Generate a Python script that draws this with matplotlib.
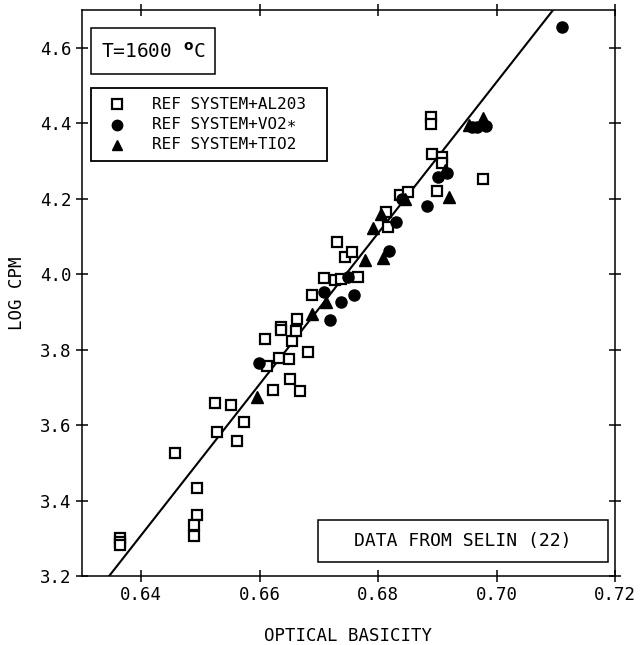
import matplotlib
matplotlib.use('Agg')
import matplotlib.pyplot as plt

plt.rcParams['font.family'] = ['DejaVu Sans Mono', 'DejaVu Sans']

# REF SYSTEM + AL2O3 (open squares)
al_x = [0.6364, 0.6364, 0.6364, 0.6457, 0.6494, 0.6494, 0.6489, 0.6489, 0.6525, 0.6552,
        0.6528, 0.6574, 0.6562, 0.6623, 0.6612, 0.6633, 0.6650, 0.6651, 0.6668, 0.6609,
        0.6655, 0.6636, 0.6636, 0.6661, 0.6663, 0.6682, 0.6688, 0.6709, 0.6727, 0.6737,
        0.6766, 0.6731, 0.6744, 0.6756, 0.6813, 0.6817, 0.6837, 0.6851, 0.6889, 0.6889,
        0.6891, 0.6908, 0.6908, 0.6900, 0.6977]
al_y = [3.301, 3.290, 3.282, 3.526, 3.433, 3.362, 3.335, 3.306, 3.659, 3.654,
        3.582, 3.608, 3.558, 3.693, 3.757, 3.778, 3.775, 3.722, 3.691, 3.829,
        3.823, 3.860, 3.852, 3.850, 3.882, 3.794, 3.945, 3.990, 3.985, 3.988,
        3.993, 4.086, 4.046, 4.059, 4.165, 4.125, 4.210, 4.218, 4.417, 4.399,
        4.319, 4.311, 4.295, 4.221, 4.253]

# REF SYSTEM + VO2* (filled circles)
vo_x = [0.7111, 0.6959, 0.6967, 0.6982, 0.6916, 0.6901, 0.6883, 0.6840, 0.6830, 0.6819,
        0.6749, 0.6709, 0.6737, 0.6759, 0.6719, 0.6599]
vo_y = [4.656, 4.391, 4.391, 4.393, 4.269, 4.258, 4.181, 4.200, 4.139, 4.062,
        3.993, 3.953, 3.927, 3.945, 3.879, 3.765]

# REF SYSTEM + TIO2 (filled triangles)
ti_x = [0.6954, 0.6977, 0.6913, 0.6920, 0.6846, 0.6805, 0.6791, 0.6778, 0.6808, 0.6712,
        0.6688, 0.6596]
ti_y = [4.396, 4.415, 4.277, 4.205, 4.200, 4.160, 4.123, 4.038, 4.043, 3.927,
        3.896, 3.675]

# regression line end points
fit_x = [0.6346, 0.7095]
fit_y = [3.2, 4.7]

xticks = [0.64, 0.66, 0.68, 0.70, 0.72]
yticks = [3.2, 3.4, 3.6, 3.8, 4.0, 4.2, 4.4, 4.6]

fig = plt.figure(figsize=(6.4, 6.45), dpi=100)
ax = fig.add_axes([0.128, 0.107, 0.833, 0.877])

ax.plot(fit_x, fit_y, color='black', lw=1.5, zorder=2)
ax.plot(al_x, al_y, 's', ms=7.5, mfc='white', mec='black', mew=1.6, zorder=3)
ax.plot(vo_x, vo_y, 'o', ms=8, color='black', zorder=4)
ax.plot(ti_x, ti_y, '^', ms=8, color='black', zorder=4)

ax.set_xlim(0.63, 0.72)
ax.set_ylim(3.2, 4.7)
ax.set_xticks(xticks)
ax.set_yticks(yticks)
ax.set_xticklabels(['%.2f' % v for v in xticks], fontsize=12.5)
ax.set_yticklabels(['%.1f' % v for v in yticks], fontsize=12.5)
ax.tick_params(direction='inout', length=9, width=1.1, top=True, right=True, pad=3)
for s in ax.spines.values():
    s.set_linewidth(1.1)

ax.set_xlabel('OPTICAL BASICITY', fontsize=12.5, labelpad=16)
ax.set_ylabel('LOG CPM', fontsize=12.5, labelpad=10)

# T box
ax.add_patch(plt.Rectangle((0.017, 0.887), 0.232, 0.081, transform=ax.transAxes,
                           fc='white', ec='black', lw=1.1, zorder=5))
ax.text(0.133, 0.927, 'T=1600 $^{\\mathbf{o}}$C', transform=ax.transAxes, fontsize=14,
        va='center', ha='center', zorder=6)

# legend box
ax.add_patch(plt.Rectangle((0.017, 0.733), 0.443, 0.129, transform=ax.transAxes,
                           fc='white', ec='black', lw=1.3, zorder=5))
leg_labels = ['REF SYSTEM+AL203', 'REF SYSTEM+VO2\u2217', 'REF SYSTEM+TIO2']
leg_y = [0.834, 0.798, 0.762]
ax.plot([0.065], [leg_y[0]], 's', ms=6.5, mfc='white', mec='black', mew=1.6,
        transform=ax.transAxes, zorder=6, clip_on=False)
ax.plot([0.065], [leg_y[1]], 'o', ms=7.5, color='black',
        transform=ax.transAxes, zorder=6, clip_on=False)
ax.plot([0.065], [leg_y[2]], '^', ms=7.5, color='black',
        transform=ax.transAxes, zorder=6, clip_on=False)
for lab, yy in zip(leg_labels, leg_y):
    ax.text(0.131, yy, lab, transform=ax.transAxes, fontsize=11.5,
            va='center', ha='left', zorder=6)

# data source box
ax.add_patch(plt.Rectangle((0.443, 0.025), 0.544, 0.074, transform=ax.transAxes,
                           fc='white', ec='black', lw=1.1, zorder=5))
ax.text(0.715, 0.062, 'DATA FROM SELIN (22)', transform=ax.transAxes, fontsize=13,
        va='center', ha='center', zorder=6)

fig.savefig('out.png', dpi=100)
